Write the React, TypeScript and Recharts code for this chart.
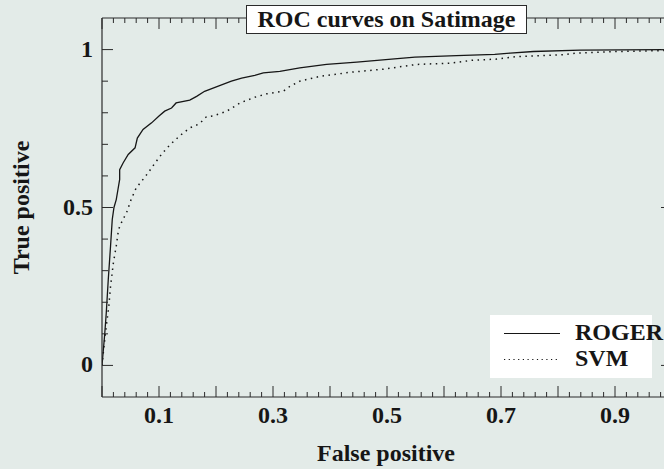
import React from "react";
import { LineChart, Line, XAxis, YAxis } from "recharts";

// ROC curve of the ROGER classifier (false positive rate, true positive rate)
const ROGER_FPR = [
  0, 0.0047, 0.0075, 0.011, 0.015, 0.018, 0.021, 0.025, 0.028, 0.031, 0.031, 0.037,
  0.046, 0.058, 0.062, 0.072, 0.087, 0.1, 0.11, 0.122, 0.13, 0.154, 0.166, 0.18,
  0.204, 0.227, 0.245, 0.268, 0.283, 0.312, 0.347, 0.394, 0.447, 0.508, 0.549,
  0.622, 0.689, 0.716, 0.757, 0.839, 1.0,
];
const ROGER_TPR = [
  0, 0.098, 0.167, 0.272, 0.378, 0.462, 0.5, 0.525, 0.557, 0.589, 0.62, 0.641,
  0.668, 0.689, 0.72, 0.747, 0.768, 0.79, 0.805, 0.815, 0.831, 0.84, 0.852, 0.868,
  0.884, 0.9, 0.91, 0.918, 0.926, 0.931, 0.942, 0.953, 0.96, 0.97, 0.976,
  0.981, 0.985, 0.989, 0.994, 0.998, 1.0,
];

// ROC curve of the SVM classifier
const SVM_FPR = [
  0, 0.0035, 0.0075, 0.012, 0.015, 0.02, 0.025, 0.029, 0.036, 0.043, 0.051, 0.06,
  0.072, 0.081, 0.093, 0.106, 0.119, 0.137, 0.154, 0.171, 0.183, 0.195, 0.219,
  0.242, 0.268, 0.289, 0.318, 0.33, 0.347, 0.382, 0.435, 0.494, 0.552, 0.61,
  0.649, 0.693, 0.728, 0.812, 0.833, 0.906, 0.986, 1.0,
];
const SVM_TPR = [
  0, 0.061, 0.124, 0.188, 0.251, 0.325, 0.378, 0.43, 0.46, 0.483, 0.525, 0.562,
  0.589, 0.61, 0.641, 0.672, 0.698, 0.728, 0.752, 0.765, 0.787, 0.79, 0.805,
  0.831, 0.849, 0.86, 0.868, 0.884, 0.9, 0.915, 0.928, 0.938, 0.953, 0.957,
  0.966, 0.97, 0.978, 0.984, 0.989, 0.994, 0.997, 1.0,
];

const X_LABEL_TICKS = [0.1, 0.3, 0.5, 0.7, 0.9];
const X_TICKS = Array.from({ length: 51 }, (_, i) => (i * 2) / 100);
const Y_TICKS = [0, 0.1, 0.2, 0.3, 0.4, 0.5, 0.6, 0.7, 0.8, 0.9, 1];
const Y_LABEL_TICKS = [0, 0.5, 1];
const Y_MAJOR_TICKS = [0, 0.5, 1];

const rogerData = ROGER_FPR.map((fpr, i) => ({ fpr, tpr: ROGER_TPR[i] }));
const svmData = SVM_FPR.map((fpr, i) => ({ fpr, tpr: SVM_TPR[i] }));

const BG = "#e3ebe8";
const INK = "#161616";
const AXIS = "#2a2a2a";
const FONT = "'Liberation Serif', 'Times New Roman', serif";

const near = (a: number, b: number) => Math.abs(a - b) < 1e-9;
const isTenth = (v: number) => Math.abs(v * 10 - Math.round(v * 10)) < 1e-9;

const textStyle = {
  fontFamily: FONT,
  fontWeight: 700,
  fontSize: 24,
  fill: INK,
};

function XTick(props: any) {
  const { x, y, payload, side } = props;
  const v = payload.value as number;
  const len = isTenth(v) ? 11 : 5;
  const dir = side === "bottom" ? -1 : 1;
  const labelled = side === "bottom" && X_LABEL_TICKS.some((t) => near(t, v));
  return (
    <g>
      <line x1={x} x2={x} y1={y} y2={y + dir * len} stroke={AXIS} strokeWidth={1} />
      {labelled ? (
        <text x={x} y={y + 26} textAnchor="middle" style={textStyle}>
          {String(v)}
        </text>
      ) : null}
    </g>
  );
}

function YTick(props: any) {
  const { x, y, payload, side } = props;
  const v = payload.value as number;
  const major = Y_MAJOR_TICKS.some((t) => near(t, v));
  const len = major ? 11 : 6;
  const dir = side === "left" ? 1 : -1;
  const labelled = side === "left" && Y_LABEL_TICKS.some((t) => near(t, v));
  return (
    <g>
      <line x1={x} x2={x + dir * len} y1={y} y2={y} stroke={AXIS} strokeWidth={1} />
      {labelled ? (
        <text x={x - 9} y={y + 7} textAnchor="end" style={textStyle}>
          {String(v)}
        </text>
      ) : null}
    </g>
  );
}

export default function App() {
  return (
    <div
      style={{
        position: "absolute",
        left: 0,
        top: 0,
        width: 664,
        height: 469,
        overflow: "hidden",
        background: BG,
      }}
    >
      <LineChart
        width={700}
        height={469}
        margin={{ top: 0, right: 0, bottom: 0, left: 0 }}
      >
        <XAxis
          xAxisId="bottom"
          orientation="bottom"
          type="number"
          dataKey="fpr"
          domain={[0, 1]}
          ticks={X_TICKS}
          interval={0}
          height={72}
          tickSize={0}
          tickMargin={0}
          tickLine={false}
          axisLine={{ stroke: AXIS, strokeWidth: 1.2 }}
          tick={(p: any) => <XTick {...p} side="bottom" />}
          allowDataOverflow
        />
        <XAxis
          xAxisId="top"
          orientation="top"
          type="number"
          dataKey="fpr"
          domain={[0, 1]}
          ticks={X_TICKS}
          interval={0}
          height={18}
          tickSize={0}
          tickMargin={0}
          tickLine={false}
          axisLine={{ stroke: AXIS, strokeWidth: 1.2 }}
          tick={(p: any) => <XTick {...p} side="top" />}
          allowDataOverflow
        />
        <YAxis
          yAxisId="left"
          orientation="left"
          type="number"
          domain={[-0.1, 1.1]}
          ticks={Y_TICKS}
          interval={0}
          width={102}
          tickSize={0}
          tickMargin={0}
          tickLine={false}
          axisLine={{ stroke: AXIS, strokeWidth: 1.2 }}
          tick={(p: any) => <YTick {...p} side="left" />}
          allowDataOverflow
        />
        <YAxis
          yAxisId="right"
          orientation="right"
          type="number"
          domain={[-0.1, 1.1]}
          ticks={Y_TICKS}
          interval={0}
          width={28}
          tickSize={0}
          tickMargin={0}
          tickLine={false}
          axisLine={{ stroke: AXIS, strokeWidth: 1.2 }}
          tick={(p: any) => <YTick {...p} side="right" />}
          allowDataOverflow
        />
        <Line
          xAxisId="bottom"
          yAxisId="left"
          data={rogerData}
          dataKey="tpr"
          type="linear"
          stroke={INK}
          strokeWidth={1.3}
          dot={false}
          isAnimationActive={false}
        />
        <Line
          xAxisId="bottom"
          yAxisId="left"
          data={svmData}
          dataKey="tpr"
          type="linear"
          stroke={INK}
          strokeWidth={1.5}
          strokeDasharray="1.5 4.5"
          dot={false}
          isAnimationActive={false}
        />
      </LineChart>

      <svg
        width={664}
        height={469}
        style={{ position: "absolute", left: 0, top: 0, pointerEvents: "none" }}
      >
        {/* title box */}
        <rect x={246.5} y={5.5} width={280} height={28} fill="#ffffff" stroke={AXIS} strokeWidth={1} />
        <text x={386.5} y={27} textAnchor="middle" style={textStyle}>
          ROC curves on Satimage
        </text>

        {/* axis titles */}
        <text x={386} y={461} textAnchor="middle" style={textStyle}>
          False positive
        </text>
        <text
          x={0}
          y={0}
          transform="translate(29 207.5) rotate(-90)"
          textAnchor="middle"
          style={textStyle}
        >
          True positive
        </text>

        {/* legend */}
        <rect x={490} y={315} width={162} height={63} fill="#ffffff" />
        <line x1={504} x2={560} y1={333.5} y2={333.5} stroke={INK} strokeWidth={1.2} />
        <line x1={504} x2={560} y1={359.5} y2={359.5} stroke={INK} strokeWidth={1.2} strokeDasharray="1.2 3.5" />
        <text x={575} y={340} style={textStyle}>ROGER</text>
        <text x={575} y={366} style={textStyle}>SVM</text>
      </svg>
    </div>
  );
}
